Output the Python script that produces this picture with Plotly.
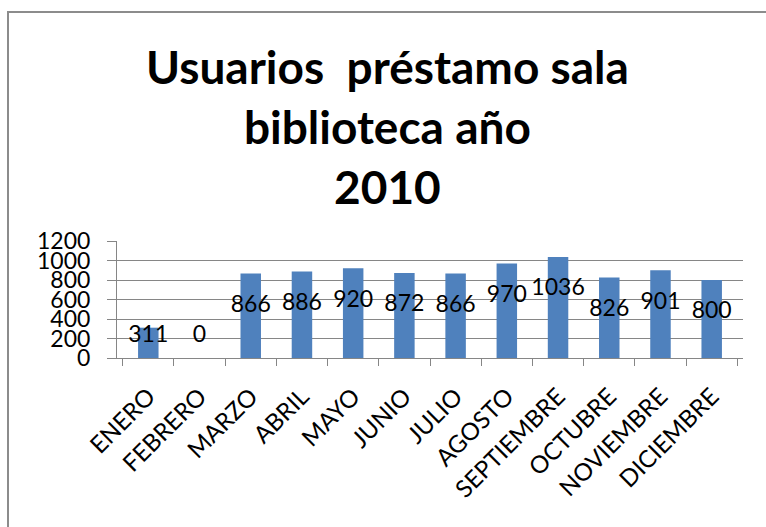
import plotly.graph_objects as go

months = ["ENERO", "FEBRERO", "MARZO", "ABRIL", "MAYO", "JUNIO", "JULIO",
          "AGOSTO", "SEPTIEMBRE", "OCTUBRE", "NOVIEMBRE", "DICIEMBRE"]
usuarios = [311, 0, 866, 886, 920, 872, 866, 970, 1036, 826, 901, 800]
y_ticks = [0, 200, 400, 600, 800, 1000, 1200]
title_text = "<b>Usuarios  préstamo sala<br>biblioteca año<br>2010</b>"

W, H = 766, 527
L, R, T, B = 117, 23, 241, 169
pw, ph = W - L - R, H - T - B

FONT = "Lato"

# label positions: placed a fixed distance below bar top, floored above the axis
label_y = [max(v - 335, 225) for v in usuarios]

fig = go.Figure()
fig.add_trace(go.Bar(
    x=months, y=usuarios,
    marker=dict(color="#4F81BD", line=dict(width=0)),
    hoverinfo="x+y",
))
fig.add_trace(go.Scatter(
    x=months, y=label_y, mode="text",
    text=[str(v) for v in usuarios],
    textposition="middle center",
    textfont=dict(family=FONT, size=23, color="black"),
    cliponaxis=False, hoverinfo="skip",
))

fig.update_layout(
    width=W, height=H,
    margin=dict(l=L, r=R, t=T, b=B, autoexpand=False),
    paper_bgcolor="white", plot_bgcolor="white",
    showlegend=False,
    bargap=0.6,
    font=dict(family=FONT, color="black"),
    annotations=[dict(
        text=title_text, showarrow=False,
        xref="paper", yref="paper",
        x=(387 - L) / pw, y=(H - B - 127) / ph,
        xanchor="center", yanchor="middle", align="center",
        font=dict(family=FONT, size=46, color="black"),
    )],
    shapes=[dict(
        type="rect", xref="paper", yref="paper",
        x0=(8 - L) / pw, x1=1.5, y0=-3, y1=(H - B - 12) / ph,
        line=dict(color="#8C8C8C", width=2), fillcolor="rgba(0,0,0,0)",
        layer="below",
    )],
)

fig.update_xaxes(
    type="category", automargin=False,
    tickangle=-45,
    tickfont=dict(family=FONT, size=24, color="black"),
    showline=True, linecolor="#868686", linewidth=1,
    ticks="outside", tickson="boundaries", ticklen=7, tickcolor="#868686",
    ticklabelstandoff=14,
    showgrid=False,
)
fig.update_yaxes(
    range=[0, 1200], tickvals=y_ticks, automargin=False,
    tickfont=dict(family=FONT, size=23, color="black"),
    showline=True, linecolor="#868686", linewidth=1,
    ticks="outside", ticklen=9, tickcolor="#868686",
    ticklabelstandoff=12,
    showgrid=True, gridcolor="#868686", gridwidth=1,
    zeroline=False,
)

fig.write_html(
    "out.html",
    config={"displayModeBar": False},
    post_script="document.body.style.margin='0';document.body.style.overflow='hidden';",
)
